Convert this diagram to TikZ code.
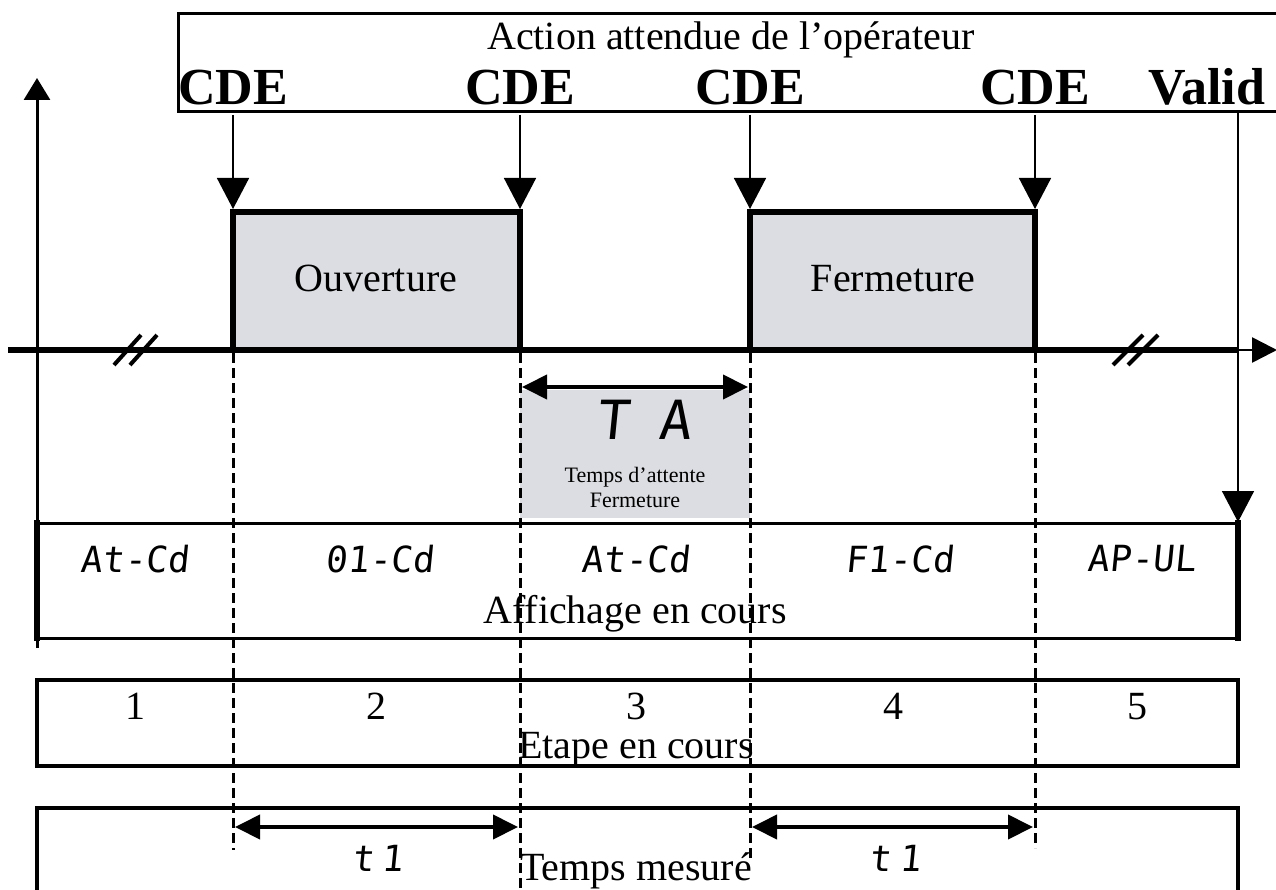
\documentclass[tikz,border=0pt]{standalone}
\usepackage{fontspec}
\setmainfont{Liberation Serif}
\newfontfamily\segfont[FakeSlant=0.1]{DejaVu Sans Mono}
\usetikzlibrary{arrows.meta}
\definecolor{pulsegray}{RGB}{220,221,226}
\begin{document}
\begin{tikzpicture}[x=1pt,y=-1pt,
  txt/.style={font=\fontsize{40}{44}\selectfont, inner sep=0, anchor=base},
  small/.style={font=\fontsize{22}{24}\selectfont, inner sep=0, anchor=base},
  cde/.style={font=\fontsize{52}{56}\selectfont\bfseries, inner sep=0, anchor=base},
  seg/.style={font=\segfont\fontsize{36}{40}\selectfont, inner sep=0},
  bigseg/.style={font=\segfont\fontsize{54}{58}\selectfont, inner sep=0},
  frame/.style={line width=3pt},
  thickframe/.style={line width=6pt},
  cmd/.style={line width=1.5pt, -{Triangle[width=32pt,length=31pt]}},
  wave/.style={line width=6pt, line join=miter},
  guide/.style={line width=3pt, dash pattern=on 10pt off 5pt},
  span/.style={line width=4pt, {Triangle[width=24pt,length=25pt]}-{Triangle[width=24pt,length=25pt]}},
  brk/.style={line width=4pt},
  shade/.style={fill=pulsegray, draw=none}]
\useasboundingbox (0,0) rectangle (1276,890);

% ---- top box: operator actions
\draw[frame] (178,14) rectangle (1290,112);
\node[txt] (act) at (731,50) {Action attendue de l’opérateur};
\node[cde] (c1) at (233,105) {CDE};
\node[cde] (c2) at (520,105) {CDE};
\node[cde] (c3) at (750,105) {CDE};
\node[cde] (c4) at (1035,105) {CDE};
\node[cde] (val) at (1207,105) {Valid};

% ---- shaded areas
\fill[shade] (233,212) rectangle (520,350);
\fill[shade] (750,212) rectangle (1035,350);
\fill[shade] (520,390) rectangle (750,518);

% ---- axes
\coordinate (yb) at (37,648);
\coordinate (yt) at (37,78);
\draw[line width=3pt, -{Triangle[width=26pt,length=22pt]}] (yb) -- (yt);
\coordinate (xl) at (8,350);
\coordinate (xv) at (1238,350);
\coordinate (xr) at (1277,350);
\draw[line width=6pt] (xl) -- (xv);
\draw[line width=2.5pt, -{Triangle[width=25pt,length=25pt]}] (xv) -- (xr);

% ---- square wave
\coordinate (w0) at (233,350);
\coordinate (w1) at (233,212);
\coordinate (w2) at (520,212);
\coordinate (w3) at (520,350);
\coordinate (w4) at (750,350);
\coordinate (w5) at (750,212);
\coordinate (w6) at (1035,212);
\coordinate (w7) at (1035,350);
\draw[wave] (w0) -- (w1) -- (w2) -- (w3) -- (w4) -- (w5) -- (w6) -- (w7);
\node[txt] (ouv) at (376,292) {Ouverture};
\node[txt] (fer) at (893,292) {Fermeture};

% ---- break marks
\draw[brk] (114,365) -- (141,335);
\draw[brk] (130,365) -- (157,335);
\draw[brk] (1113,365) -- (1143,335);
\draw[brk] (1128,365) -- (1158,335);

% ---- command arrows
\coordinate (a1) at (233,115); \coordinate (b1) at (233,209);
\coordinate (a2) at (520,115); \coordinate (b2) at (520,209);
\coordinate (a3) at (750,115); \coordinate (b3) at (750,209);
\coordinate (a4) at (1035,115); \coordinate (b4) at (1035,209);
\coordinate (a5) at (1238,113); \coordinate (b5) at (1238,522);
\draw[cmd] (a1) -- (b1);
\draw[cmd] (a2) -- (b2);
\draw[cmd] (a3) -- (b3);
\draw[cmd] (a4) -- (b4);
\draw[cmd] (a5) -- (b5);

% ---- dashed guides
\coordinate (g1) at (233,353); \coordinate (h1) at (233,850);
\coordinate (g2) at (520,353); \coordinate (h2) at (520,890);
\coordinate (g3) at (750,353); \coordinate (h3) at (750,858);
\coordinate (g4) at (1035,353); \coordinate (h4) at (1035,848);
\draw[guide] (g1) -- (h1);
\draw[guide] (g2) -- (h2);
\draw[guide] (g3) -- (h3);
\draw[guide] (g4) -- (h4);

% ---- TA
\coordinate (ta1) at (522,387); \coordinate (ta2) at (748,387);
\draw[span] (ta1) -- (ta2);
\node[bigseg] (ta) at (644,420) {T\hspace{30pt}A};
\node[small] (tal1) at (635,482) {Temps d’attente};
\node[small] (tal2) at (635,507) {Fermeture};

% ---- display row
\draw[frame] (37,523) -- (1238,523);
\draw[frame] (37,638) -- (1238,638);
\draw[thickframe] (37,520) -- (37,641);
\draw[thickframe] (1238,520) -- (1238,641);
\node[seg] (d1) at (135,559) {At-Cd};
\node[seg] (d2) at (380,559) {01-Cd};
\node[seg] (d3) at (636,559) {At-Cd};
\node[seg] (d4) at (900,559) {F1-Cd};
\node[seg] (d5) at (1142,559) {AP-UL};
\node[txt] (aff) at (635,623) {Affichage en cours};

% ---- step row
\draw[line width=4pt] (37,680) rectangle (1238,766);
\node[txt] (s1) at (135,719) {1};
\node[txt] (s2) at (376,719) {2};
\node[txt] (s3) at (636,719) {3};
\node[txt] (s4) at (893,719) {4};
\node[txt] (s5) at (1137,719) {5};
\node[txt] (eta) at (636,758) {Etape en cours};

% ---- measured time row
\draw[line width=4pt] (37,900) -- (37,808) -- (1238,808) -- (1238,900);
\coordinate (t1a) at (235,827); \coordinate (t1b) at (518,827);
\coordinate (t2a) at (752,827); \coordinate (t2b) at (1033,827);
\draw[span] (t1a) -- (t1b);
\draw[span] (t2a) -- (t2b);
\node[seg] (m1) at (378,858) {t\hspace{8pt}1};
\node[seg] (m2) at (895,858) {t\hspace{8pt}1};
\node[txt] (tm) at (636,880) {Temps mesuré};
\end{tikzpicture}
\end{document}
